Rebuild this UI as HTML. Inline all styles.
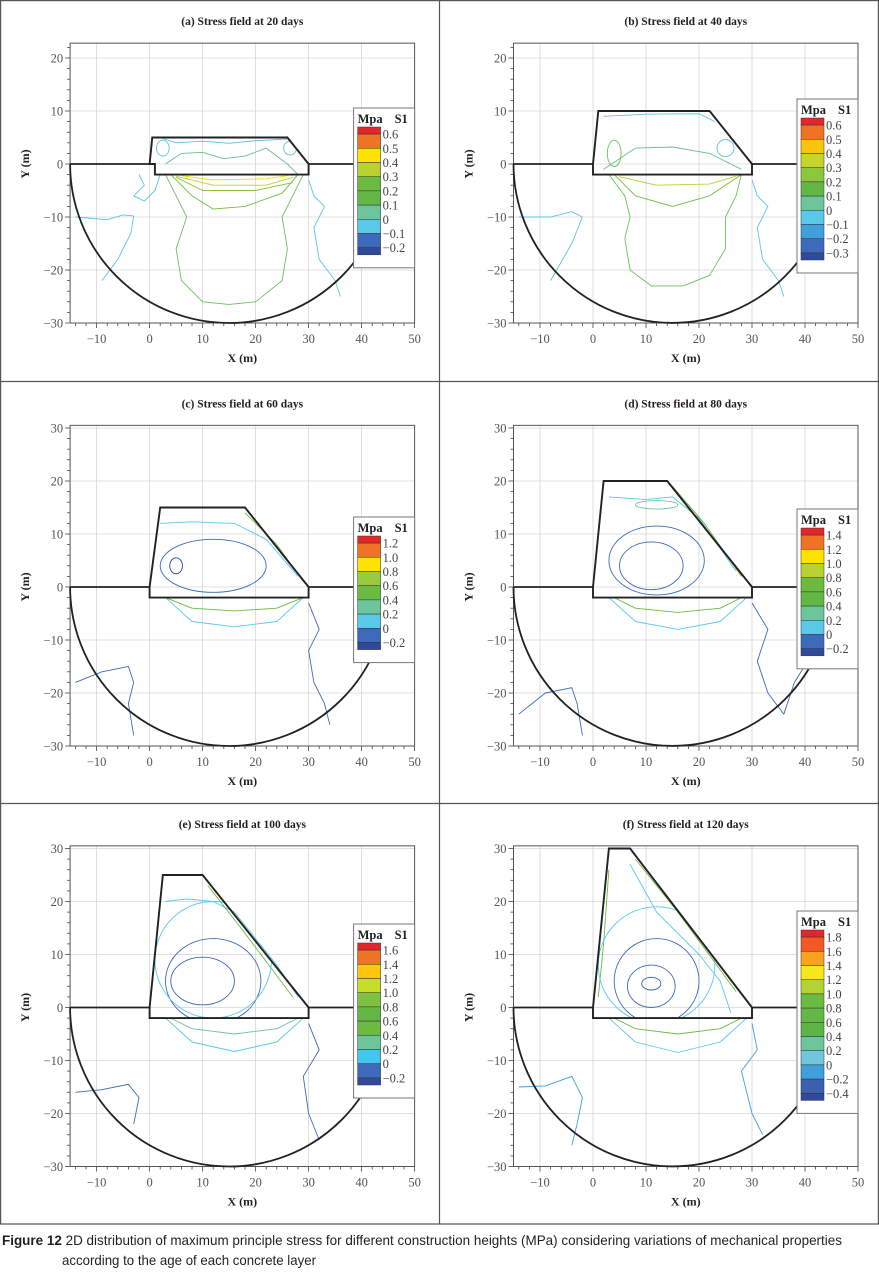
<!DOCTYPE html>
<html><head><meta charset="utf-8"><style>
html,body{margin:0;padding:0;background:#fff;}
svg{display:block;}
</style></head><body>
<svg id="fig" xmlns="http://www.w3.org/2000/svg" width="879" height="1283" viewBox="0 0 879 1283">
<g fill="none" stroke="#555" stroke-width="1.2">
<rect x="0.6" y="0.6" width="877.8" height="1223.4"/>
<line x1="439.5" y1="0" x2="439.5" y2="1224"/>
<line x1="0" y1="381.5" x2="879" y2="381.5"/>
<line x1="0" y1="803.5" x2="879" y2="803.5"/>
</g>
<text x="2" y="1245" font-family="Liberation Sans, sans-serif" font-size="14" fill="#231f20" textLength="840" lengthAdjust="spacingAndGlyphs"><tspan font-weight="bold">Figure 12</tspan> 2D distribution of maximum principle stress for different construction heights (MPa) considering variations of mechanical properties</text>
<text x="62" y="1265" font-family="Liberation Sans, sans-serif" font-size="14" fill="#231f20" textLength="254" lengthAdjust="spacingAndGlyphs">according to the age of each concrete layer</text>
</svg>
<script>
// ---- data ----
const panelTitles = ["(a) Stress field at 20 days","(b) Stress field at 40 days","(c) Stress field at 60 days","(d) Stress field at 80 days","(e) Stress field at 100 days","(f) Stress field at 120 days"];
const panelYMax = [22.8, 22.8, 30.5, 30.5, 30.5, 30.5];
const xTicks = [-10,0,10,20,30,40,50];
const yTicksRow1 = [20,10,0,-10,-20,-30];
const yTicksRow23 = [30,20,10,0,-10,-20,-30];
const legendLabels = [
 ["0.6","0.5","0.4","0.3","0.2","0.1","0","\u22120.1","\u22120.2"],
 ["0.6","0.5","0.4","0.3","0.2","0.1","0","\u22120.1","\u22120.2","\u22120.3"],
 ["1.2","1.0","0.8","0.6","0.4","0.2","0","\u22120.2"],
 ["1.4","1.2","1.0","0.8","0.6","0.4","0.2","0","\u22120.2"],
 ["1.6","1.4","1.2","1.0","0.8","0.6","0.4","0.2","0","\u22120.2"],
 ["1.8","1.6","1.4","1.2","1.0","0.8","0.6","0.4","0.2","0","\u22120.2","\u22120.4"]
];
const legendColors = [
 ["#e3262b","#ee7424","#ffe200","#b9d232","#6bbb40","#63b745","#6cc59b","#58c9e8","#3d6abb","#2f4a9c"],
 ["#e3262b","#ee7424","#f9c40d","#c5d52c","#8cc63e","#63b745","#6cc59b","#58c9e8","#3fa0dc","#3d6abb","#2f4a9c"],
 ["#e3262b","#ee7424","#ffe200","#9acb3c","#6bbb40","#6cc59b","#58c9e8","#3d6abb","#2f4a9c"],
 ["#e3262b","#ee7424","#ffe200","#b9d232","#6bbb40","#63b745","#6cc59b","#58c9e8","#3d6abb","#2f4a9c"],
 ["#e3262b","#ee7424","#fcc70e","#c8dc2c","#7dc241","#63b745","#6bbb40","#6cc59b","#3ec8ee","#3d6abb","#2f4a9c"],
 ["#e3262b","#f15a24","#f8a31b","#f7e619","#b5d234","#6bbb40","#63b745","#5cb446","#6cc59b","#70c6dc","#3fa0dc","#3d5fb0","#2f4a9c"]
];
const legendTop = [108, 99, 517, 509, 924, 911];
const damTopY = [5, 10, 15, 20, 25, 30];
const damTopLeftX = [0.5, 1, 2, 2, 2.5, 3];
const damTopRightX = [26, 22, 18, 14, 10, 7];
const contours = [
 [0,"#5bc3e4",[[-14,-10],[-8,-10.5],[-5,-9.6],[-3,-9.8],[-3.5,-13],[-6,-18],[-9,-22]]],
 [0,"#5bc3e4",[[30,-3],[31,-6],[33,-8],[31,-12],[32,-18],[35,-22],[36,-25]]],
 [0,"#5bc3e4",[[-2,-2],[-1,-4],[-3,-6],[-1,-7],[1,-5],[2,-2]]],
 [0,"#5bc3e4",[[2,5],[5,4],[10,4.3],[15,3.9],[20,4.4],[26,4.7]]],
 [0,"#6cbf8a",[[3,0],[6,2],[10,2.2],[14,1],[18,1.5],[22,3],[26,0],[28,-2]]],
 [0,"#6cbf60",[[3,-2],[5,-6],[7,-10],[5,-16],[6,-22],[10,-26],[15,-26.5],[20,-26],[25,-22],[26,-16],[25,-10],[27,-6],[29,-2]]],
 [0,"#6cbf40",[[4,-2],[8,-6],[12,-8.5],[18,-8],[25,-5.5],[28,-2]]],
 [0,"#8cc63e",[[5,-2.5],[10,-5],[20,-5],[27,-3.5]]],
 [0,"#b9d232",[[5,-2.3],[12,-4],[22,-4],[27,-2.5]]],
 [0,"#ffd800",[[6,-2.2],[12,-3],[22,-2.8],[26,-2.2]]],
 [1,"#5bc3e4",[[-14,-10],[-8,-10],[-4,-9],[-2,-10],[-4,-15],[-8,-22]]],
 [1,"#5bc3e4",[[30,-3],[31,-6],[33,-8],[31,-12],[32,-18],[35,-22],[36,-25]]],
 [1,"#5bc3e4",[[2,9],[10,9.4],[20,9.5],[23,8]]],
 [1,"#6cbf8a",[[2,-1],[8,3],[15,3.2],[22,2],[28,-1]]],
 [1,"#6cbf60",[[3,-2],[6,-6],[7,-10],[6,-14],[7,-20],[11,-23],[17,-23],[22,-21],[25,-16],[25,-10],[27,-6],[28,-2]]],
 [1,"#6cbf40",[[4,-2],[8,-6],[15,-8],[22,-6],[28,-2]]],
 [1,"#b9d232",[[5,-2.4],[12,-4],[22,-3.8],[27,-2.3]]],
 [2,"#3d6abb",[[-14,-18],[-9,-16],[-4,-15],[-3,-18],[-4,-22],[-3,-28]]],
 [2,"#3d6abb",[[30,-3],[32,-8],[30,-12],[31,-18],[33,-22],[34,-26]]],
 [2,"#58c9e8",[[2,12],[8,12.3],[16,12],[22,9],[28,2]]],
 [2,"#58c9e8",[[3,-2],[8,-6.5],[16,-7.5],[24,-6.5],[29,-2]]],
 [2,"#6bbb40",[[3,-2],[8,-4],[16,-4.5],[24,-4],[29,-2]]],
 [2,"#6bbb40",[[18,14],[24,8],[29,1]]],
 [3,"#3d6abb",[[-14,-24],[-9,-20],[-4,-19],[-3,-22],[-2,-28]]],
 [3,"#3d6abb",[[30,-3],[33,-8],[31,-14],[33,-20],[36,-24],[38,-18],[43,-10]]],
 [3,"#58c9e8",[[3,-2],[8,-6.5],[16,-8],[24,-6.5],[29,-2]]],
 [3,"#6bbb40",[[4,-2],[8,-4],[16,-4.8],[24,-4],[28,-2]]],
 [3,"#58c9e8",[[3,17],[10,16.5],[15,17],[20,13],[27,3]]],
 [3,"#6bbb40",[[15,19],[21,12],[28,2]]],
 [4,"#3d6abb",[[-14,-16],[-9,-15.5],[-4,-14.5],[-2,-17],[-3,-22]]],
 [4,"#3d6abb",[[30,-3],[32,-8],[29,-13],[30,-20],[32,-25]]],
 [4,"#58c9e8",[[3,-2],[8,-6.5],[16,-8.3],[24,-6.5],[29,-2]]],
 [4,"#6cc59b",[[4,-2],[8,-4],[16,-5],[24,-4],[28,-2]]],
 [4,"#58c9e8",[[3,20],[7,20.5],[12,20],[16,18],[24,8],[28,2]]],
 [4,"#6bbb40",[[11,23],[18,14],[27,2]]],
 [5,"#3fa0dc",[[-14,-15],[-9,-14.8],[-4,-13],[-2,-17],[-3,-22],[-4,-26]]],
 [5,"#3fa0dc",[[30,-3],[31,-8],[28,-12],[30,-20],[32,-24]]],
 [5,"#58c9e8",[[3,-2],[8,-6.5],[16,-8.5],[24,-6.5],[29,-2]]],
 [5,"#6bbb40",[[4,-2],[8,-4],[16,-5],[24,-4],[28,-2]]],
 [5,"#58c9e8",[[7,27],[12,18],[20,10],[24,5],[26,-1]]],
 [5,"#6bbb40",[[8,28],[16,18],[27,3]]],
 [5,"#6bbb40",[[3,26],[2,12],[1,2]]]
];
const loops = [
 [0,"#5bc3e4",2.5,3,1.2,1.5],[0,"#5bc3e4",26.5,3,1.2,1.3],
 [1,"#5bc3e4",25,3,1.6,1.6],[1,"#6cbf60",4,2,1.3,2.5],
 [2,"#3d6abb",12,4,10,5],[2,"#2f4a9c",5,4,1.2,1.5],
 [3,"#3d6abb",12,5,9,6.5],[3,"#3d6abb",11,4,6,4.5],[3,"#6cc59b",12,15.5,4,0.8],
 [4,"#3d6abb",12,5,9,8],[4,"#3d6abb",10,5,6,4.5],[4,"#58c9e8",12,9,11,11],
 [5,"#58c9e8",12,8,11,11],[5,"#3d6abb",12,5,8,8],[5,"#3d6abb",11,4,4.5,4],[5,"#3d5fb0",11,4.5,1.8,1.2]
];

const S = 5.3;
const colX0 = [149.6, 593];
const rowY0 = [164, 587, 1007.5];
const NS = "http://www.w3.org/2000/svg";
const svg = document.getElementById('fig');
function mk(tag, attrs, parent){const e=document.createElementNS(NS,tag);for(const k in attrs)e.setAttribute(k,attrs[k]);(parent||svg).appendChild(e);return e;}
const defs=mk('defs',{});

for(let p=0;p<6;p++){
  const col=p%2,row=Math.floor(p/2);
  const X=v=>colX0[col]+v*S, Y=v=>rowY0[row]-v*S;
  const g=mk('g',{});
  
  
  const left=X(-15),right=X(50),top=Y(panelYMax[p]),bot=Y(-30);
  const cx=(left+right)/2;
  const t=mk('text',{x:cx,y:top-18,'text-anchor':'middle','font-family':'Liberation Serif, serif','font-weight':'bold','font-size':'11.5','fill':'#231f20'},g);
  t.textContent=panelTitles[p];
  
  
  const yt=row===0?yTicksRow1:yTicksRow23;
  xTicks.forEach(v=>{mk('line',{x1:X(v),x2:X(v),y1:top,y2:bot,stroke:'#d6d6d6','stroke-width':'0.8'},g);});
  yt.forEach(v=>{mk('line',{x1:left,x2:right,y1:Y(v),y2:Y(v),stroke:'#d6d6d6','stroke-width':'0.8'},g);});
  for(let v=-30;v<=panelYMax[p];v+=2){mk('line',{x1:left-(v%10===0?5:3),x2:left,y1:Y(v),y2:Y(v),stroke:'#444','stroke-width':'0.8'},g);}
  for(let v=-14;v<=50;v+=2){mk('line',{x1:X(v),x2:X(v),y1:bot,y2:bot+(v%10===0?5:3),stroke:'#444','stroke-width':'0.8'},g);}
  mk('rect',{x:left,y:top,width:right-left,height:bot-top,fill:'none',stroke:'#555','stroke-width':'1'},g);
  xTicks.forEach(v=>{const e=mk('text',{x:X(v),y:bot+20,'text-anchor':'middle','font-family':'Liberation Serif, serif','font-size':'12.5','fill':'#555'},g);e.textContent=v<0?'\u2212'+(-v):v;
    
    });
  yt.forEach(v=>{const e=mk('text',{x:left-7,y:Y(v)+4.5,'text-anchor':'end','font-family':'Liberation Serif, serif','font-size':'12.5','fill':'#555'},g);e.textContent=v<0?'\u2212'+(-v):v;
    
    });
  const xl=mk('text',{x:cx,y:bot+39,'text-anchor':'middle','font-family':'Liberation Serif, serif','font-weight':'bold','font-size':'12','fill':'#231f20'},g);
  xl.textContent='X (m)';
  
  
  const yl=mk('text',{x:0,y:0,transform:`translate(${left-41},${Y(0)}) rotate(-90)`,'text-anchor':'middle','font-family':'Liberation Serif, serif','font-weight':'bold','font-size':'12','fill':'#231f20'},g);
  yl.textContent='Y (m)';
  
  
  const damD=`M${X(0)} ${Y(0)} L${X(damTopLeftX[p])} ${Y(damTopY[p])} L${X(damTopRightX[p])} ${Y(damTopY[p])} L${X(30)} ${Y(0)} L${X(30)} ${Y(-2)} L${X(p===0?1:0)} ${Y(-2)} L${X(p===0?1:0)} ${Y(0)} Z`;
  const cp=mk('clipPath',{id:'dam'+p},defs);
  mk('path',{d:damD},cp);
  contours.filter(c=>c[0]===p).forEach(c=>{
    const d=c[2].map((q,i)=>(i?'L':'M')+X(q[0]).toFixed(1)+' '+Y(q[1]).toFixed(1)).join(' ');
    const e=mk('path',{d:d,fill:'none',stroke:c[1],'stroke-width':'0.9','stroke-linejoin':'round'},g);
    
    
  });
  const lg0=mk('g',{'clip-path':`url(#dam${p})`},g);
  loops.filter(c=>c[0]===p).forEach(c=>{
    const e=mk('ellipse',{cx:X(c[2]),cy:Y(c[3]),rx:c[4]*S,ry:c[5]*S,fill:'none',stroke:c[1],'stroke-width':'0.9'},lg0);
    
    
  });
  const R=30;
  const arc=mk('path',{d:`M${X(-15)} ${Y(0)} A${R*S} ${R*S} 0 0 0 ${X(45)} ${Y(0)}`,fill:'none',stroke:'#222','stroke-width':'1.8'},g);
  
  
  const gr=mk('path',{d:`M${X(-15)} ${Y(0)} L${X(0)} ${Y(0)} M${X(30)} ${Y(0)} L${X(45)} ${Y(0)}`,fill:'none',stroke:'#222','stroke-width':'1.8'},g);
  
  
  const dam=mk('path',{d:damD,fill:'none',stroke:'#222','stroke-width':'1.9','stroke-linejoin':'miter'},g);
  
  
  const labs=legendLabels[p],cols=legendColors[p];
  const sp=14.2,lt=legendTop[p];
  const lh=26+labs.length*sp+6;
  const lg=mk('g',{},g);
  
  
  const lx=right-61;
  mk('rect',{x:lx,y:lt,width:61,height:lh,fill:'#fff',stroke:'#777','stroke-width':'1'},lg);
  const lt1=mk('text',{x:lx+4,y:lt+15,'font-family':'Liberation Serif, serif','font-weight':'bold','font-size':'12.5','fill':'#231f20'},lg);
  lt1.textContent='Mpa';
  const lt2=mk('text',{x:lx+41,y:lt+15,'font-family':'Liberation Serif, serif','font-weight':'bold','font-size':'12.5','fill':'#231f20'},lg);
  lt2.textContent='S1';
  const sy0=lt+19;
  for(let i=0;i<cols.length;i++){
    const h=(i===0||i===cols.length-1)?sp/2:sp;
    const yy=i===0?sy0:sy0+sp/2+(i-1)*sp;
    const r=mk('rect',{x:lx+4,y:yy,width:23,height:h,fill:cols[i],stroke:'#333','stroke-width':'0.5'},lg);
    
    
  }
  labs.forEach((s,i)=>{const e=mk('text',{x:lx+29,y:sy0+sp/2+i*sp+4.5,'font-family':'Liberation Serif, serif','font-size':'12.5','fill':'#444'},lg);e.textContent=s;
    
    });
}
</script>
</body></html>
